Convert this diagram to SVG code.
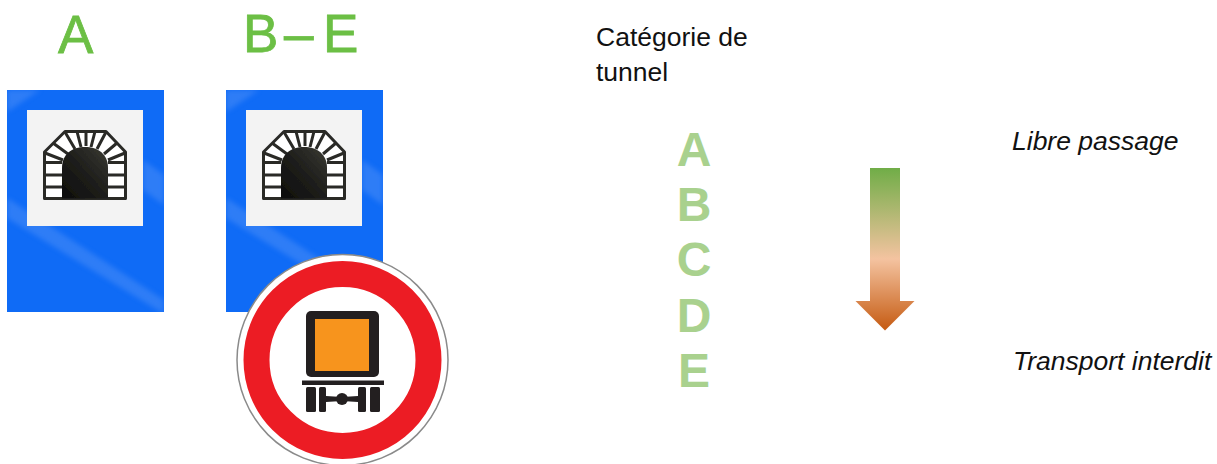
<svg xmlns="http://www.w3.org/2000/svg" width="1217" height="464" viewBox="0 0 1217 464">
<style>
text{font-family:"Liberation Sans",Arial,sans-serif}
.hd{font-size:53px;fill:#6cbf45;stroke:#6cbf45;stroke-width:.8}
.cat{font-size:48px;font-weight:bold;fill:#a9d18e;text-anchor:middle}
.lb{font-size:26.500px;fill:#111}
.it{font-size:26.500px;font-style:italic;fill:#111}
.blue{fill:#0f6bf6}
.streak{fill:#4d8ff7;opacity:.5}
.panel{fill:#f3f3f3}
.ol{fill:#fff;stroke:#2a2a28;stroke-width:3;stroke-linejoin:round}
.br{stroke:#2a2a28;stroke-width:3;fill:none}
</style>
<defs>
<filter id="soft" x="-10%" y="-10%" width="120%" height="120%"><feGaussianBlur stdDeviation="2.500"/></filter>
<filter id="softer" x="-5%" y="-5%" width="110%" height="110%"><feGaussianBlur stdDeviation=".5"/></filter>
<clipPath id="boardClip"><rect x="7" y="90" width="157" height="222"/></clipPath>
<linearGradient id="arrowGrad" x1="0" y1="0" x2="0" y2="1">
<stop offset="0" stop-color="#70ad47"/><stop offset=".56" stop-color="#f4c3a0"/><stop offset="1" stop-color="#c55a11"/>
</linearGradient>
<linearGradient id="mouth" x1="0" y1="1" x2="1" y2="0">
<stop offset="0" stop-color="#0c0c0b"/><stop offset=".5" stop-color="#1e1e1b"/><stop offset="1" stop-color="#3a3a34"/>
</linearGradient>
<g id="tunnel" filter="url(#softer)">
<path class="ol" d="M44.500 198.500V152L65 131.500H106L125.500 152V198.500Z"/>
<path class="br" d="M44.500 162.500H62M44.500 175H62M44.500 187H62M108 162.500H125.500M108 175H125.500M108 187H125.500M45 153L63 160M53 143L68 154M65 132L75 149M77 131.500L81 147M86 131.500V146M95 131.500L91 147M106 132L97 149M117 143L104 154M125 153L108 160"/>
<path d="M62 198.500V168C62 154 72 147 85 147C98 147 108 154 108 168V198.500Z" fill="url(#mouth)"/>
</g>
<g id="board">
<rect class="blue" x="7" y="90" width="157" height="222"/>
<g clip-path="url(#boardClip)">
<path class="streak" filter="url(#soft)" d="M7 198L164 300V314L7 218Z"/>
<path class="streak" filter="url(#soft)" d="M7 90H40L7 112Z" opacity=".3"/>
<path class="streak" filter="url(#soft)" d="M143 160L164 175V205L143 190Z" opacity=".35"/>
</g>
<rect class="panel" x="27" y="110" width="116" height="116"/>
<use href="#tunnel"/>
</g>
</defs>

<g id="label-a"><text class="hd" x="58" y="53">A</text></g>
<g id="label-be"><text class="hd" x="243 279 284 314 323" y="52">B – E</text></g>
<g id="sign-a"><use href="#board"/></g>
<g id="sign-be"><use href="#board" x="219"/></g>

<g id="prohibition-sign">
<circle cx="342.500" cy="360" r="105.500" fill="#fff" stroke="#8a8a8a" stroke-width="1.500"/>
<circle cx="342.500" cy="360" r="86" fill="#fff" stroke="#ec1c24" stroke-width="26"/>
<rect x="306" y="311" width="73" height="66" rx="5" fill="#231f20"/>
<rect x="315" y="319" width="54" height="52" fill="#f7941d"/>
<rect x="302" y="380.500" width="82" height="4.500" fill="#231f20"/>
<g fill="#231f20">
<rect x="306" y="387" width="10" height="25" rx="1.500"/>
<rect x="319" y="387" width="7" height="25" rx="1.500"/>
<rect x="358" y="387" width="8" height="25" rx="1.500"/>
<rect x="370" y="387" width="10" height="25" rx="1.500"/>
<circle cx="342" cy="399" r="6"/>
<path d="M326 396L342 397V401L326 402ZM358 396L342 397V401L358 402Z"/>
</g>
</g>

<g id="caption"><text class="lb" x="596" y="46">Catégorie de</text><text class="lb" x="596" y="81">tunnel</text></g>
<g id="cat-a"><text class="cat" x="694" y="166">A</text></g>
<g id="cat-b"><text class="cat" x="694" y="221">B</text></g>
<g id="cat-c"><text class="cat" x="694" y="276">C</text></g>
<g id="cat-d"><text class="cat" x="694" y="332">D</text></g>
<g id="cat-e"><text class="cat" x="694" y="387">E</text></g>

<g id="connectors">
<path d="M870 168H900V301H914.500L885 330.500L855.500 301H870Z" fill="url(#arrowGrad)"/>
</g>

<g id="label-free"><text class="it" x="1012" y="150">Libre passage</text></g>
<g id="label-forbidden"><text class="it" x="1013" y="370">Transport interdit</text></g>
</svg>
